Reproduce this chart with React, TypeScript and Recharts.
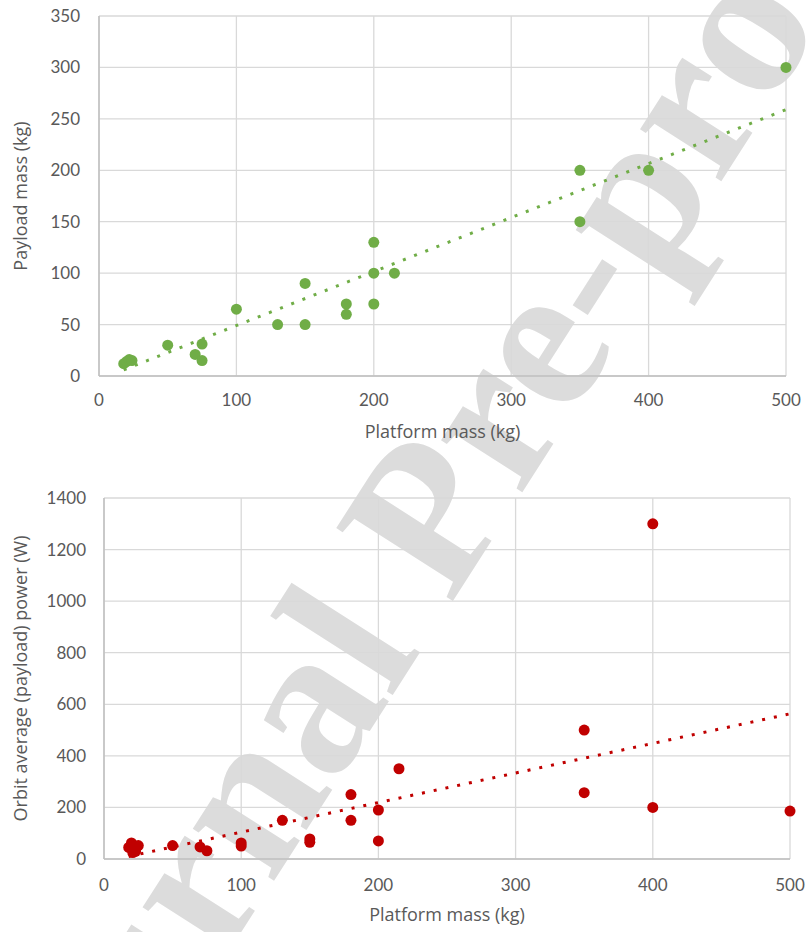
import { ScatterChart, Scatter, XAxis, YAxis, CartesianGrid } from 'recharts';

// platform mass vs payload mass
const massX = [18, 20, 22, 24, 50, 70, 75, 75, 100, 130, 150, 150, 180, 180, 200, 200, 200, 215, 350, 350, 400, 500];
const payloadY = [12, 14, 16, 15, 30, 21, 31, 15, 65, 50, 90, 50, 70, 60, 130, 100, 70, 100, 200, 150, 200, 300];
const payloadTrendX = [18, 500];
const payloadTrendY = [6, 259];

// platform mass vs orbit average payload power
const powerX = [18, 20, 21, 23, 25, 50, 70, 75, 100, 100, 130, 150, 150, 180, 180, 200, 200, 215, 350, 350, 400, 400, 500];
const powerY = [45, 62, 25, 30, 52, 52, 47, 32, 62, 50, 150, 78, 65, 250, 150, 190, 70, 350, 500, 257, 1300, 200, 186];
const powerTrendX = [18, 500];
const powerTrendY = [10, 563];

const xTicks = [0, 100, 200, 300, 400, 500];
const payloadTicks = [0, 50, 100, 150, 200, 250, 300, 350];
const powerTicks = [0, 200, 400, 600, 800, 1000, 1200, 1400];

const zip = (xs: number[], ys: number[]) => xs.map((x, i) => ({ x, y: ys[i] }));

const TEXT = '#595959';
const tickStyle = { fill: TEXT, fontSize: 17, fontFamily: 'Lato' };
const titleStyle = { fill: TEXT, fontSize: 18, fontFamily: 'Open Sans' };

const dot = (color: string) => (p: any) => <circle cx={p.cx} cy={p.cy} r={5.5} fill={color} />;
const noDot = () => <g />;

type PanelProps = {
  top: number;
  height: number;
  margin: { top: number; right: number; bottom: number; left: number };
  yWidth: number;
  points: { x: number; y: number }[];
  trend: { x: number; y: number }[];
  yTicks: number[];
  yMax: number;
  yTitle: string;
  color: string;
  xTickMargin: number;
  yTickMargin: number;
};

function Panel(props: PanelProps) {
  const { top, height, margin, yWidth, points, trend, yTicks, yMax, yTitle, color } = props;
  return (
    <div style={{ position: 'absolute', left: 0, top }}>
      <ScatterChart width={806} height={height} margin={margin}>
        <CartesianGrid stroke="#D9D9D9" strokeWidth={1.3} />
        <XAxis
          type="number"
          dataKey="x"
          domain={[0, 500]}
          ticks={xTicks}
          height={64}
          tickSize={0}
          tickMargin={props.xTickMargin}
          tick={tickStyle}
          axisLine={{ stroke: '#BFBFBF', strokeWidth: 1.5 }}
          label={{ value: 'Platform mass (kg)', position: 'insideBottom', offset: 2, style: titleStyle }}
        />
        <YAxis
          type="number"
          dataKey="y"
          domain={[0, yMax]}
          ticks={yTicks}
          width={yWidth}
          tickSize={0}
          tickMargin={props.yTickMargin}
          tick={tickStyle}
          axisLine={{ stroke: '#BFBFBF', strokeWidth: 1.5 }}
          label={{ value: yTitle, angle: -90, position: 'insideLeft', offset: 21, style: { ...titleStyle, textAnchor: 'middle' } }}
        />
        <Scatter
          data={trend}
          shape={noDot}
          line={{ stroke: color, strokeWidth: 3, strokeDasharray: '3 9' }}
          isAnimationActive={false}
        />
        <Scatter data={points} shape={dot(color)} isAnimationActive={false} />
      </ScatterChart>
    </div>
  );
}

export default function App() {
  return (
    <div style={{ position: 'absolute', left: 0, top: 0, width: 806, height: 932, background: '#fff', overflow: 'hidden' }}>
      <svg width={806} height={932} style={{ position: 'absolute', left: 0, top: 0 }}>
        <text
          x={481}
          y={557}
          textAnchor="middle"
          fontFamily="Liberation Serif"
          fontWeight="bold"
          fontSize={210}
          fill="#DCDCDC"
          transform="rotate(-57.4 481 557)"
        >
          Journal Pre-proof
        </text>
      </svg>
      <Panel
        top={0}
        height={470}
        margin={{ top: 16, right: 20, bottom: 30, left: 0 }}
        yWidth={99}
        points={zip(massX, payloadY)}
        trend={zip(payloadTrendX, payloadTrendY)}
        yTicks={payloadTicks}
        yMax={350}
        yTitle="Payload mass (kg)"
        color="#70AD47"
        xTickMargin={18}
        yTickMargin={19}
      />
      <Panel
        top={470}
        height={462}
        margin={{ top: 28, right: 16, bottom: 9, left: 0 }}
        yWidth={104}
        points={zip(powerX, powerY)}
        trend={zip(powerTrendX, powerTrendY)}
        yTicks={powerTicks}
        yMax={1400}
        yTitle="Orbit average (payload) power (W)"
        color="#C00000"
        xTickMargin={20}
        yTickMargin={18}
      />
    </div>
  );
}
